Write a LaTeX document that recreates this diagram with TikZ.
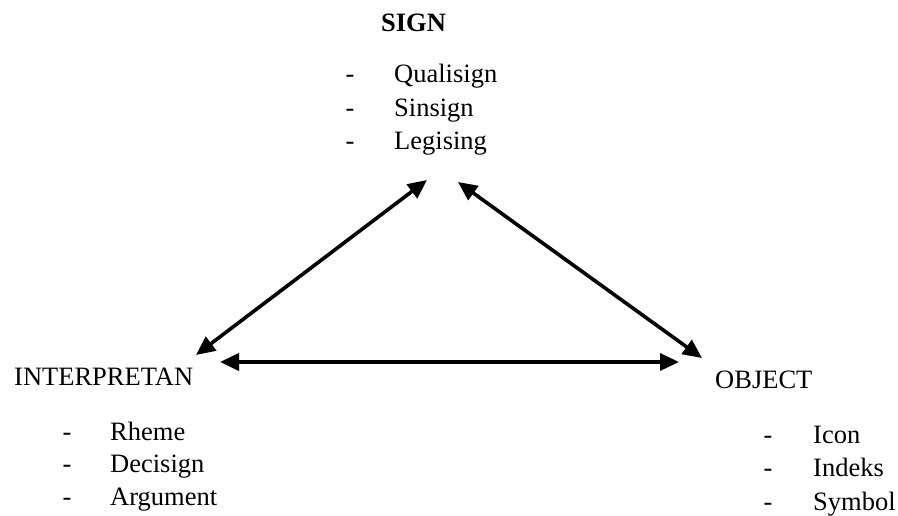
\documentclass[tikz,border=0pt]{standalone}
\usepackage{fontspec}
\setmainfont{Liberation Serif}
\usetikzlibrary{arrows.meta}

\tikzset{
  txt/.style={inner sep=0pt, anchor=base west, font=\fontsize{26.5}{33}\selectfont},
  dashmark/.style={inner sep=0pt, anchor=base, font=\fontsize{26.5}{33}\selectfont},
  link/.style={line width=3.6pt, {Triangle[length=19pt,width=17pt]}-{Triangle[length=19pt,width=17pt]}}
}

\begin{document}
\begin{tikzpicture}[x=1pt,y=-1pt]
    \useasboundingbox (0,0) rectangle (898,516);

    % the three corners
    \node[txt, font=\fontsize{26.5}{33}\selectfont\bfseries] (sign) at (381,32) {SIGN};
    \node[txt] (interp) at (14,385) {INTERPRETAN};
    \node[txt] (object) at (715,388) {OBJECT};

    % the lists under each corner
    \foreach \t [count=\i] in {Qualisign,Sinsign,Legising}{
      \node[dashmark] (sd\i) at (350,{83+33.5*(\i-1)}) {-};
      \node[txt] (s\i) at (394,{83+33.5*(\i-1)}) {\t};
    }
    \foreach \t [count=\i] in {Rheme,Decisign,Argument}{
      \node[dashmark] (id\i) at (67,{440+32.5*(\i-1)}) {-};
      \node[txt] (i\i) at (110,{440+32.5*(\i-1)}) {\t};
    }
    \foreach \t [count=\i] in {Icon,Indeks,Symbol}{
      \node[dashmark] (od\i) at (768,{443+33.5*(\i-1)}) {-};
      \node[txt] (o\i) at (813,{443+33.5*(\i-1)}) {\t};
    }

    % arrow ends
    \coordinate (signL) at (427,180);
    \coordinate (signR) at (458,182);
    \coordinate (interpT) at (196,355);
    \coordinate (interpR) at (220,362);
    \coordinate (objectT) at (702,358);
    \coordinate (objectL) at (679,362);

    \draw[link] (interpT) -- (signL);
    \draw[link] (signR) -- (objectT);
    \draw[link] (interpR) -- (objectL);
\end{tikzpicture}
\end{document}
